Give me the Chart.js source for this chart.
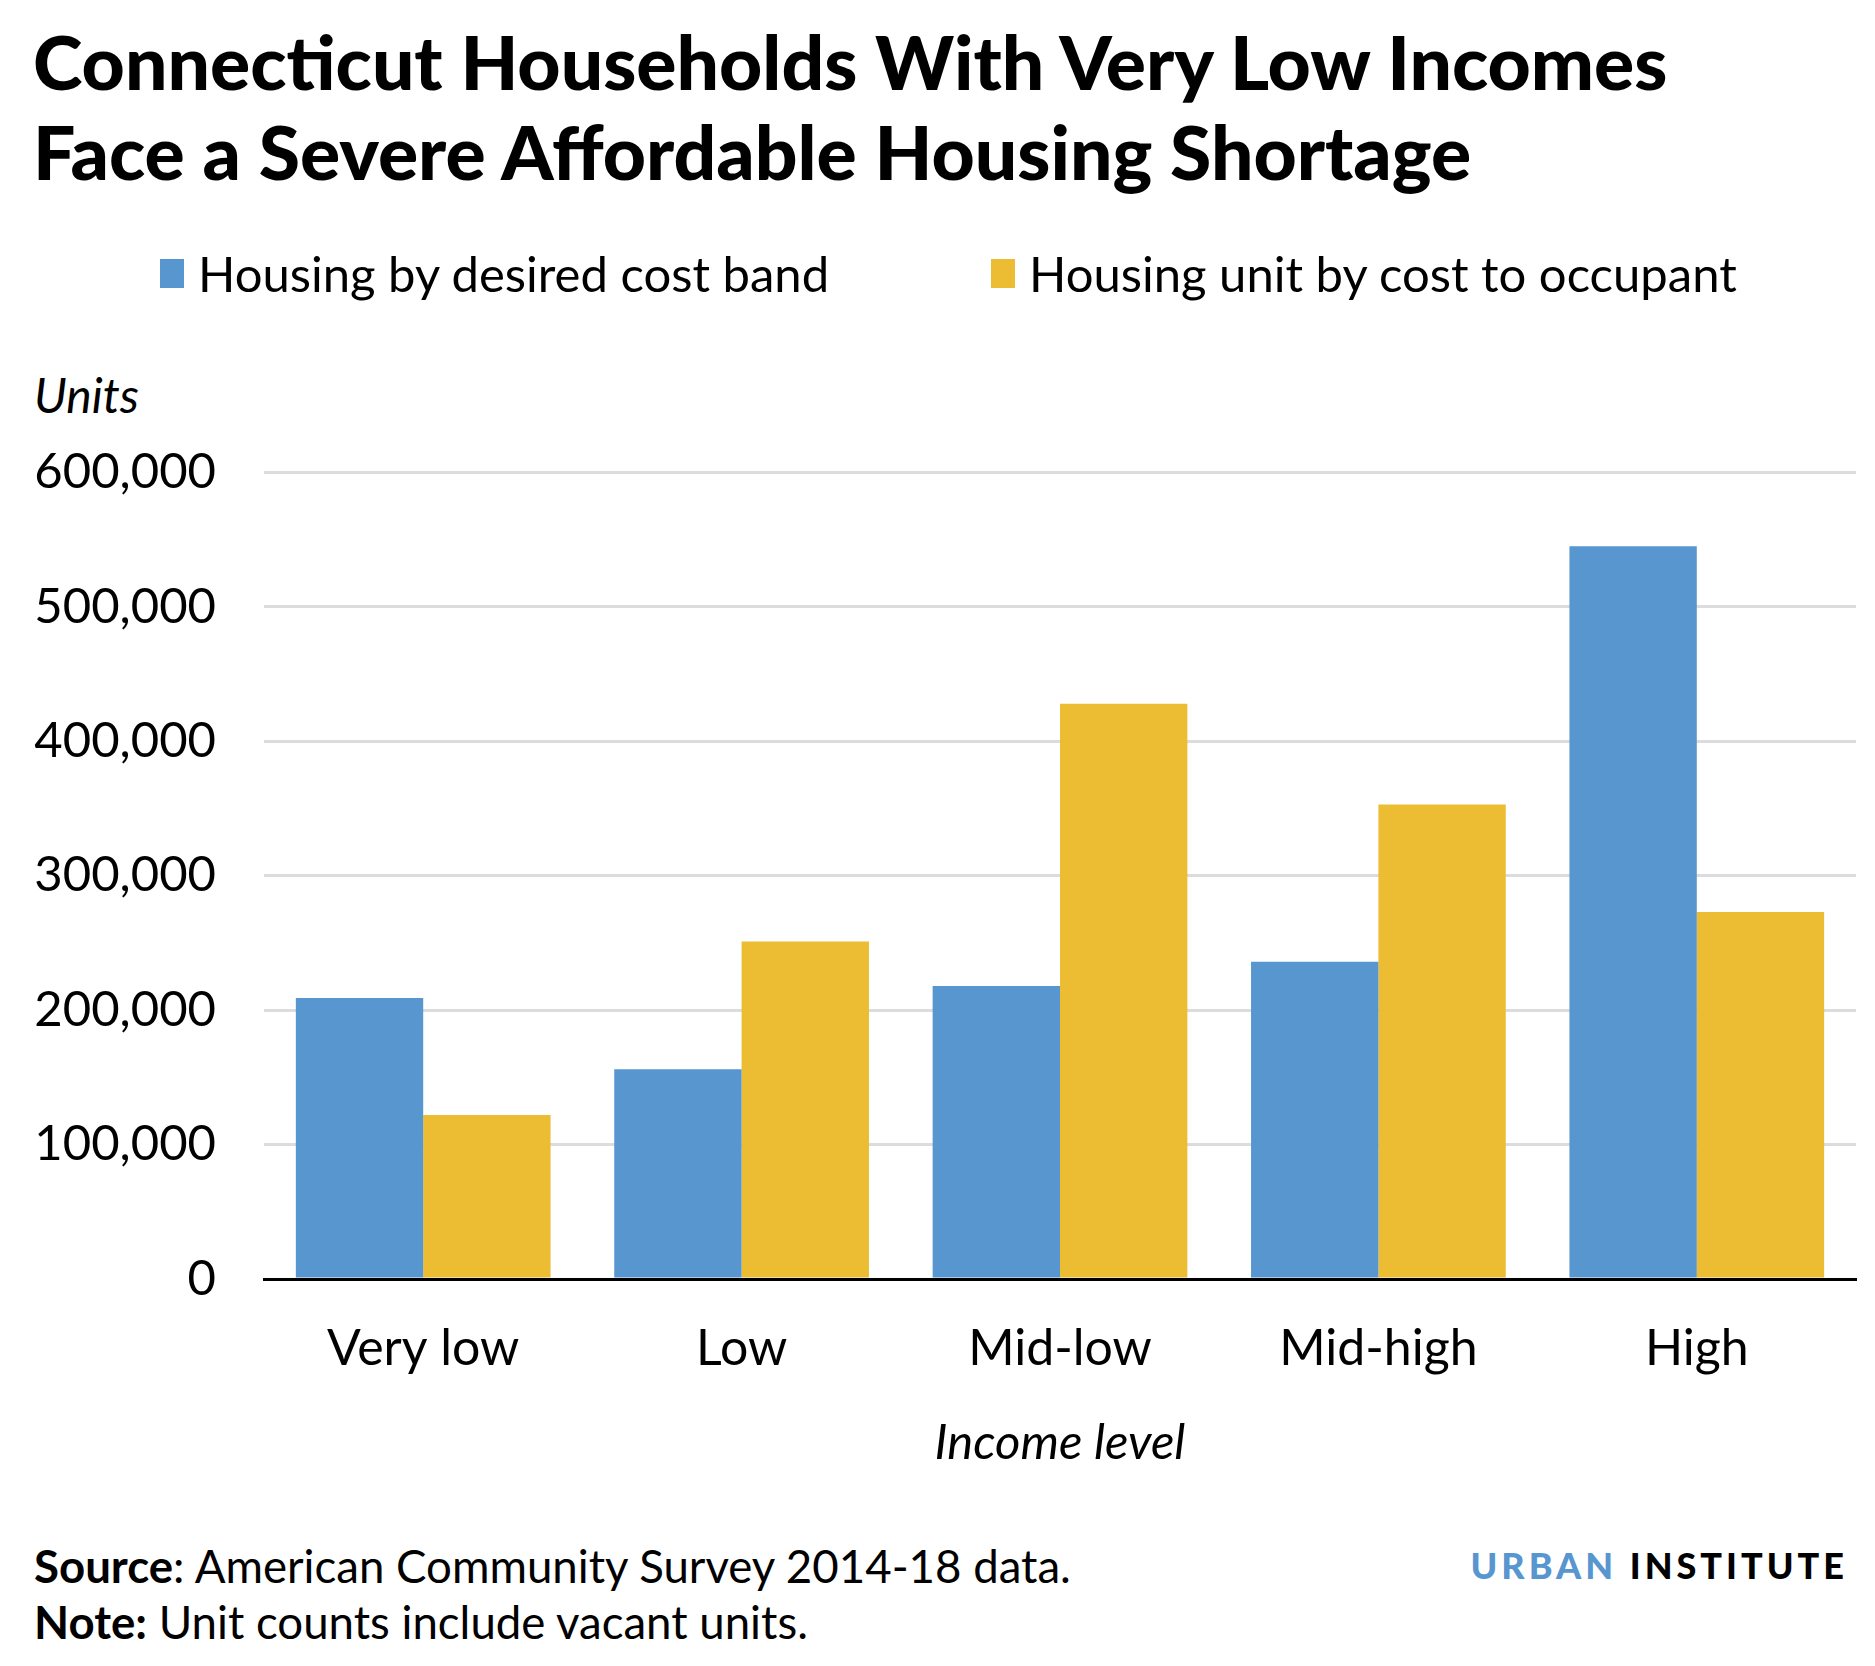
<!DOCTYPE html>
<html>
<head>
<meta charset="utf-8">
<script src="https://cdn.jsdelivr.net/npm/chart.js@4"></script>
<style>
  body { margin: 0; background: #fff; font-family: Lato, sans-serif; color: #000; }
  #page { position: relative; width: 1875px; height: 1666px; overflow: hidden; }
  .title { position: absolute; left: 33px; top: 16px; font-size: 75px; font-weight: 900; line-height: 90px; }
  .legend-item { position: absolute; top: 245px; height: 56px; display: flex; align-items: center; font-size: 49px; }
  .legend-item span.box { display: inline-block; width: 24px; height: 29px; margin-right: 14px; }
  .units { position: absolute; left: 34px; top: 366px; font-size: 48px; font-style: italic; }
  .note { position: absolute; left: 34px; font-size: 45.6px; }
  .brand { position: absolute; right: 27px; top: 1543px; font-size: 36px; font-weight: 900; letter-spacing: 4px; }
  #wrap { position: absolute; left: 0; top: 395px; width: 1875px; height: 1078px; }
</style>
</head>
<body>
<div id="page">
  <div class="title">Connecticut Households With Very Low Incomes<br>Face a Severe Affordable Housing Shortage</div>
  <div id="legend"></div>
  <div class="units">Units</div>
  <div id="wrap"><canvas id="chart"></canvas></div>
  <div class="note" style="top:1538px"><b>Source</b>: American Community Survey 2014-18 data.</div>
  <div class="note" style="top:1594px"><b>Note:</b> Unit counts include vacant units.</div>
  <div class="brand"><span style="color:#5896d0">URBAN</span> INSTITUTE</div>
</div>
<script>
// income levels on the x axis
const categories = ['Very low', 'Low', 'Mid-low', 'Mid-high', 'High'];

// units
const desiredCostBand = [209000, 156000, 218000, 236000, 545000];
const costToOccupant = [122000, 251000, 428000, 353000, 273000];

const seriesNames = ['Housing by desired cost band', 'Housing unit by cost to occupant'];
const seriesColors = ['#5896d0', '#ecbd33'];
const legendLeft = [160, 991];

const yMax = 600000;
const yStep = 100000;

// legend drawn as html so the spacing matches
const legendEl = document.getElementById('legend');
seriesNames.forEach((name, i) => {
    const item = document.createElement('div');
    item.className = 'legend-item';
    item.style.left = legendLeft[i] + 'px';
    item.innerHTML = '<span class="box" style="background:' + seriesColors[i] + '"></span>' + name;
    legendEl.appendChild(item);
});

new Chart(document.getElementById('chart'), {
    type: 'bar',
    data: {
        labels: categories,
        datasets: [
            { label: seriesNames[0], data: desiredCostBand, backgroundColor: seriesColors[0] },
            { label: seriesNames[1], data: costToOccupant, backgroundColor: seriesColors[1] }
        ]
    },
    options: {
        responsive: true,
        maintainAspectRatio: false,
        animation: false,
        categoryPercentage: 0.8,
        barPercentage: 1.0,
        layout: { padding: { top: 69, right: 19, bottom: 0, left: 0 } },
        plugins: {
            legend: { display: false },
            tooltip: { enabled: false }
        },
        scales: {
            x: {
                grid: { display: false },
                border: { display: true, color: '#000', width: 3 },
                ticks: { color: '#000', font: { family: 'Lato', size: 50 }, padding: 32, maxRotation: 0 },
                title: {
                    display: true,
                    text: 'Income level',
                    color: '#000',
                    font: { family: 'Lato', size: 49, style: 'italic' },
                    padding: 0
                },
                afterFit: function(scale) {
                    scale.height = 194;
                }
            },
            y: {
                min: 0,
                max: yMax,
                grid: { color: '#dcdcdc', lineWidth: 3, drawTicks: false },
                border: { display: false },
                ticks: {
                    stepSize: yStep,
                    color: '#000',
                    font: { family: 'Lato', size: 49 },
                    padding: 48,
                    callback: function(value) {
                        return value.toLocaleString('en-US');
                    }
                },
                afterFit: function(scale) {
                    scale.width = 264;
                }
            }
        }
    }
});
</script>
</body>
</html>
